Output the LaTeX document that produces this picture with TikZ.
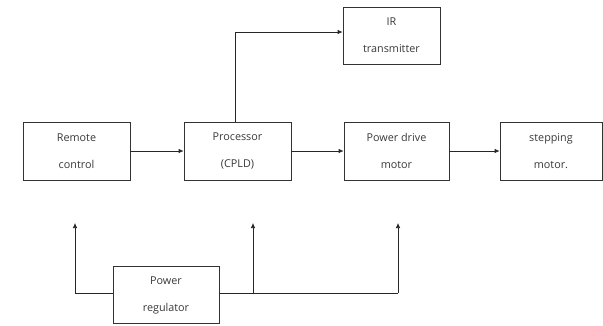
\documentclass[tikz,border=0pt]{standalone}
\usepackage{fontspec}
\setmainfont{Open Sans}
\usetikzlibrary{arrows.meta}
\begin{document}
\begin{tikzpicture}[x=1pt,y=-1pt,
  block/.style={draw=black!80, line width=0.7pt, rectangle, inner sep=0pt,
    text=black!78, font=\fontsize{10.8}{12}\selectfont, align=center},
  link/.style={draw=black!85, line width=0.7pt, -{Latex[length=5pt,width=4.5pt]}},
  wire/.style={draw=black!85, line width=0.7pt}]
\useasboundingbox (0,0) rectangle (603,325);
% main chain of blocks
\node[block, minimum width=107pt, minimum height=58pt] (remote) at (76.5,151) {Remote\\[15pt]control};
\node[block, minimum width=107pt, minimum height=58pt] (cpu) at (237.5,151) {Processor\\[15pt](CPLD)};
\node[block, minimum width=105pt, minimum height=58pt] (drive) at (396.5,151) {Power drive\\[15pt]motor};
\node[block, minimum width=102pt, minimum height=58pt] (step) at (551,151) {stepping\\[15pt]motor.};
\node[block, minimum width=97pt, minimum height=57pt] (ir) at (391.5,35.5) {IR\\[15pt]transmitter};
\node[block, minimum width=106pt, minimum height=57pt] (reg) at (166,295) {Power\\[15pt]regulator};
% signal path
\draw[link] (remote) -- (cpu);
\draw[link] (cpu) -- (drive);
\draw[link] (drive) -- (step);
\coordinate (irturn) at (235,32);
\draw[link] (cpu.north -| irturn) -- (irturn) -- (ir.west |- irturn);
% supply lines
\coordinate (supL) at (75,293);
\coordinate (supM) at (253,293);
\coordinate (supR) at (398,293);
\coordinate (tipL) at (75,223);
\coordinate (tipM) at (253,223);
\coordinate (tipR) at (398,223);
\draw[link] (reg.west |- supL) -- (supL) -- (tipL);
\draw[wire] (reg.east |- supR) -- (supR);
\draw[link] (supR) -- (tipR);
\draw[link] (supM) -- (tipM);
\end{tikzpicture}
\end{document}
